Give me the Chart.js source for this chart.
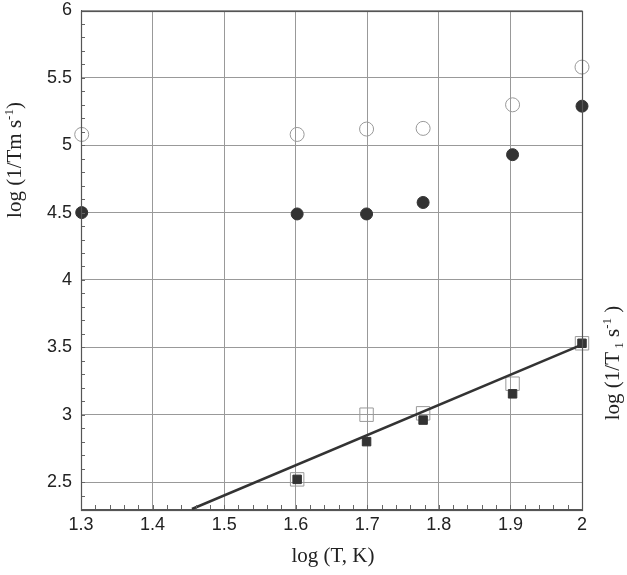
<!DOCTYPE html>
<html>
<head>
<meta charset="utf-8">
<script src="https://cdn.jsdelivr.net/npm/chart.js@4/dist/chart.umd.min.js"></script>
<style>
  html, body { margin: 0; padding: 0; background: #fff; }
  #wrap { width: 627px; height: 575px; position: relative; }
</style>
</head>
<body>
<div id="wrap"><canvas id="c"></canvas></div>
<script>
// ---- data ----
const logT = [1.301, 1.602, 1.699, 1.778, 1.903, 2.0];
const tmOpen   = [5.08, 5.08, 5.12, 5.125, 5.30, 5.58];   // open circles
const tmFilled = [4.50, 4.49, 4.49, 4.575, 4.93, 5.29];   // filled circles
const sqX      = [1.602, 1.699, 1.778, 1.903, 2.0];
const t1Open   = [2.52, 3.00, 3.01, 3.23, 3.53];          // open squares
const t1Filled = [2.52, 2.80, 2.96, 3.155, 3.53];         // filled squares
const fitX = [1.455, 2.0];
const fitY = [2.30, 3.52];
const xTicks = [1.3, 1.4, 1.5, 1.6, 1.7, 1.8, 1.9, 2];
const yTicks = [2.5, 3, 3.5, 4, 4.5, 5, 5.5, 6];
const xTitle = 'log (T, K)';
// rich titles: [text, kind] kind: n = normal, sup = superscript, sub = subscript
const yTitleLeft  = [['log (1/Tm s', 'n'], ['-1', 'sup'], [')', 'n']];
const yTitleRight = [['log (1/T', 'n'], [' 1', 'sub'], [' s', 'n'], ['-1', 'sup'], [' )', 'n']];

const pts = (xs, ys) => xs.map((x, i) => ({ x: x, y: ys[i] }));

const SERIF = '"Liberation Serif", "Times New Roman", serif';
function drawRich(ctx, segs, cx, cy, angle) {
  const big = '21px ' + SERIF, small = '13px ' + SERIF;
  let total = 0;
  const w = segs.map(([t, k]) => {
    ctx.font = k === 'n' ? big : small;
    const m = ctx.measureText(t).width;
    total += m;
    return m;
  });
  ctx.save();
  ctx.translate(cx, cy);
  ctx.rotate(angle);
  ctx.textAlign = 'left';
  ctx.textBaseline = 'alphabetic';
  let x = -total / 2;
  segs.forEach(([t, k], i) => {
    ctx.font = k === 'n' ? big : small;
    const dy = k === 'sup' ? -8 : (k === 'sub' ? 4 : 0);
    ctx.fillText(t, x, 7 + dy);
    x += w[i];
  });
  ctx.restore();
}

const framePlugin = {
  id: 'frame',
  afterDatasetsDraw(chart) {
    const { ctx, chartArea: a, scales } = chart;
    const xs = scales.x, ys = scales.y;
    ctx.save();
    ctx.strokeStyle = '#666';
    ctx.lineWidth = 1;
    ctx.beginPath();
    for (let v = 1.30; v <= 2.0001; v += 0.02) {
      const px = Math.round(xs.getPixelForValue(v)) + 0.5;
      ctx.moveTo(px, a.bottom);
      ctx.lineTo(px, a.bottom - 4);
    }
    for (let v = 2.4; v <= 6.0001; v += 0.1) {
      const py = Math.round(ys.getPixelForValue(v)) + 0.5;
      ctx.moveTo(a.left, py);
      ctx.lineTo(a.left + 4, py);
    }
    ctx.stroke();
    ctx.strokeStyle = '#555';
    ctx.lineWidth = 1.2;
    ctx.strokeRect(Math.round(a.left) + 0.5, Math.round(a.top) + 0.5,
                   Math.round(a.right - a.left), Math.round(a.bottom - a.top));
    ctx.restore();
  },
  afterDraw(chart) {
    const { ctx } = chart;
    ctx.save();
    ctx.fillStyle = '#222';
    ctx.font = '21px ' + SERIF;
    ctx.textAlign = 'center';
    ctx.textBaseline = 'middle';
    ctx.fillText(xTitle, 333, 556);
    drawRich(ctx, yTitleLeft, 14, 160, -Math.PI / 2);
    drawRich(ctx, yTitleRight, 612, 363, -Math.PI / 2);
    ctx.restore();
  }
};

const tickFont = { family: '"Liberation Sans", Arial, Helvetica, sans-serif', size: 18 };

new Chart(document.getElementById('c'), {
  type: 'scatter',
  data: {
    datasets: [
      {
        type: 'line',
        data: pts(fitX, fitY),
        borderColor: '#333',
        borderWidth: 2.5,
        pointRadius: 0,
        fill: false,
        clip: false,
        order: 1
      },
      {
        data: pts(logT, tmOpen),
        pointStyle: 'circle',
        pointRadius: 7,
        borderColor: '#999',
        backgroundColor: 'rgba(0,0,0,0)',
        borderWidth: 1,
        clip: false,
        order: 3
      },
      {
        data: pts(logT, tmFilled),
        pointStyle: 'circle',
        pointRadius: 6,
        borderColor: '#333',
        backgroundColor: '#333',
        borderWidth: 1,
        clip: false,
        order: 2
      },
      {
        data: pts(sqX, t1Open),
        pointStyle: 'rect',
        pointRadius: 9.5,
        borderColor: '#999',
        backgroundColor: 'rgba(0,0,0,0)',
        borderWidth: 1,
        clip: false,
        order: 3
      },
      {
        data: pts(sqX, t1Filled),
        pointStyle: 'rect',
        pointRadius: 6,
        borderColor: '#333',
        backgroundColor: '#333',
        borderWidth: 1,
        clip: false,
        order: 0
      }
    ]
  },
  options: {
    responsive: true,
    maintainAspectRatio: false,
    animation: false,
    layout: { padding: { left: 0, right: 45, top: 9, bottom: 0 } },
    plugins: { legend: { display: false }, tooltip: { enabled: false } },
    elements: { point: { hoverRadius: 0 } },
    scales: {
      x: {
        type: 'linear',
        min: 1.3,
        max: 2,
        afterBuildTicks: s => { s.ticks = xTicks.map(v => ({ value: v })); },
        afterFit: s => { s.height = 66; s.paddingLeft = 0; s.paddingRight = 0; },
        grid: { color: '#999', lineWidth: 1, drawTicks: false },
        border: { color: '#555', width: 1 },
        ticks: { font: tickFont, color: '#222', padding: 5, maxRotation: 0, autoSkip: false,
                 callback: v => String(v) }
      },
      y: {
        type: 'linear',
        min: 2.3,
        max: 6,
        afterBuildTicks: s => { s.ticks = yTicks.map(v => ({ value: v })); },
        afterFit: s => { s.width = 81; s.paddingTop = 0; s.paddingBottom = 0; },
        grid: { color: '#999', lineWidth: 1, drawTicks: false },
        border: { color: '#555', width: 1 },
        ticks: { font: tickFont, color: '#222', padding: 9, autoSkip: false,
                 callback: v => String(v) }
      }
    }
  },
  plugins: [framePlugin]
});
</script>
</body>
</html>
